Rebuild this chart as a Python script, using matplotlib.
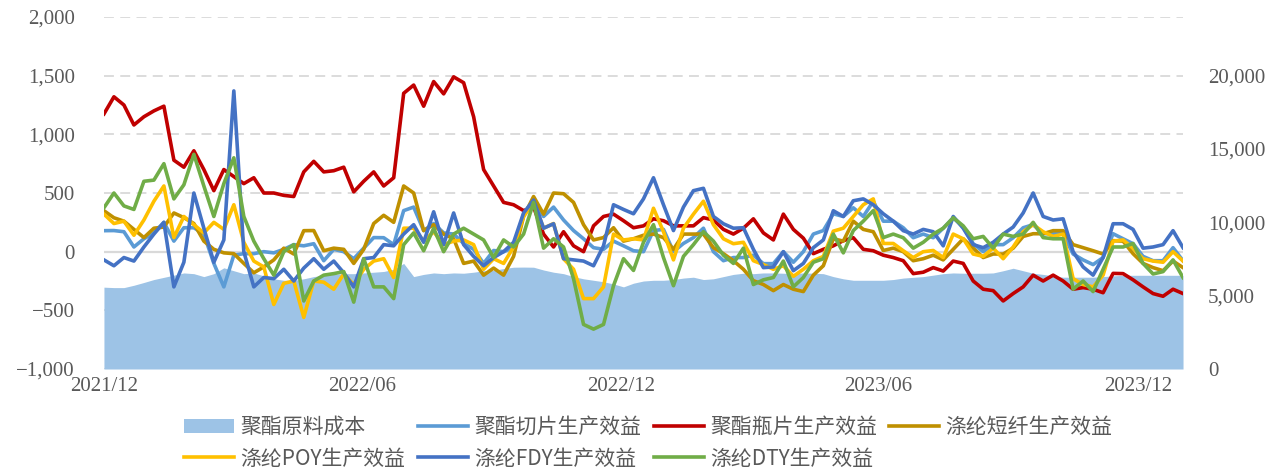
import matplotlib
matplotlib.use('Agg')
import matplotlib.pyplot as plt
import matplotlib.dates as mdates
import matplotlib.ticker as ticker
import pandas as pd

plt.rcParams['font.family'] = ['Noto Sans CJK SC', 'DejaVu Sans']

# weekly samples, 2021/12 - 2024/01
dates = pd.date_range('2021-12-01', '2024-01-02', periods=109)

# 聚酯原料成本 (right axis)
cost = [5580, 5550, 5550, 5710, 5900, 6100, 6250, 6400, 6550, 6500, 6300, 6500, 6900, 6700, 6500, 6550, 6350, 6150, 6050,
        6050, 6150, 6300, 6400, 6450, 6500, 6500, 6550, 6600, 6650, 6800, 7200, 6300, 6450, 6550, 6500, 6550, 6530,
        6600, 6700, 6730, 6850, 6940, 6950, 6940, 6750, 6600, 6500, 6300, 6150, 6050, 5950, 5800, 5600, 5850, 6000,
        6050, 6050, 6100, 6200, 6260, 6100, 6150, 6300, 6450, 6530, 6500, 6550, 6550, 6530, 6500, 6550, 6530, 6500,
        6300, 6150, 6050, 6050, 6050, 6050, 6100, 6200, 6250, 6300, 6400, 6500, 6550, 6530, 6530, 6530, 6550, 6700,
        6870, 6700, 6530, 6450, 6350, 6260, 6260, 6260, 6260, 6300, 6350, 6390, 6390, 6390, 6390, 6390, 6390, 6390]

# 聚酯切片生产效益
chip = [179, 180, 170, 40, 110, 160, 250, 90, 204, 204, 150, -100, -300, -30, -17, -17, 0, -10, 20,
        60, 50, 68, -77, 20, 0, -60, 30, 120, 119, 60, 350, 380, 179, 240, 160, 150, 70,
        20, -100, 10, 0, 34, 320, 420, 300, 380, 270, 180, 110, 34, 20, 90, 50, 8, 0,
        180, 190, 0, 70, 120, 200, 0, -77, -50, -50, -30, -102, -102, 0, -90, 0, 150, 180,
        323, 300, 374, 300, 430, 260, 260, 204, 119, 150, 119, 200, 289, 210, 68, 0, 60, 60,
        119, 204, 230, 153, 153, 153, -20, -70, -110, -50, 153, 110, 68, -40, -77, -77, 34, -77]

# 聚酯瓶片生产效益
bottle = [1174, 1320, 1250, 1080, 1150, 1200, 1240, 780, 720, 860, 700, 520, 700, 640, 580, 630, 500, 500, 480,
          470, 680, 770, 680, 690, 720, 510, 600, 680, 560, 630, 1350, 1420, 1240, 1450, 1345, 1490, 1440,
          1150, 700, 560, 420, 400, 350, 380, 150, 40, 170, 50, 0, 220, 300, 320, 264, 204, 220,
          280, 264, 220, 220, 220, 290, 270, 190, 150, 200, 280, 160, 100, 320, 190, 115, -17, 20,
          50, 94, 119, 20, 8, -30, -50, -77, -187, -175, -136, -165, -80, -100, -250, -320, -332, -420,
          -357, -300, -200, -250, -200, -250, -320, -306, -320, -350, -185, -187, -240, -300, -357, -380, -320, -357]

# 涤纶短纤生产效益
staple = [349, 289, 260, 190, 120, 200, 210, 330, 290, 240, 90, 20, -10, -17, -100, -180, -130, -70, 30,
          -20, 179, 180, 8, 30, 20, -100, 20, 240, 310, 250, 560, 500, 180, 230, 150, 110, -100,
          -80, -200, -140, -200, -40, 300, 470, 320, 500, 494, 420, 230, 100, 120, 204, 90, 110, 140,
          150, 120, 20, 150, 150, 150, 34, -17, -77, -150, -247, -280, -332, -280, -320, -340, -200, -120,
          110, 90, 260, 190, 170, 10, 30, 0, -77, -60, -30, -70, 20, 110, 30, -50, -20, -20,
          30, 130, 153, 153, 179, 179, 60, 34, 8, -20, 94, 90, -17, -100, -136, -162, -80, -136]

# 涤纶POY生产效益
poy = [320, 240, 260, 140, 270, 430, 560, 120, 300, 230, 160, 250, 190, 400, 80, -80, -130, -450, -270,
       -250, -560, -250, -260, -320, -190, -280, -150, -80, -60, -220, 200, 200, 90, 170, 60, 90, 100,
       60, -150, -60, -100, 40, 300, 420, 200, 240, -60, -150, -400, -400, -300, 150, 100, 110, 100,
       370, 170, -70, 200, 320, 430, 230, 110, 68, 80, -77, -110, -150, -120, -210, -150, -77, -40,
       175, 200, 300, 400, 450, 70, 70, 8, -50, 0, 10, -50, 150, 110, -20, -40, 30, -60,
       40, 170, 230, 170, 130, 150, -230, -280, -300, -200, 90, 100, 30, -60, -80, -90, 0, -80]

# 涤纶FDY生产效益
fdy = [-70, -120, -50, -80, 40, 150, 250, -300, -90, 500, 200, -90, 100, 1370, 0, -300, -220, -230, -150,
       -250, -140, -60, -150, -80, -180, -300, -60, -50, 60, 50, 150, 230, 80, 340, 60, 330, 60,
       -40, -120, -50, 0, 80, 330, 440, 200, 238, -60, -70, -80, -120, 50, 400, 360, 323, 450,
       630, 400, 180, 380, 520, 540, 300, 238, 200, 204, 20, -136, -130, 0, -162, -100, 34, 100,
       349, 300, 434, 450, 400, 323, 260, 179, 150, 190, 170, 50, 300, 200, 60, 34, 80, 150,
       210, 330, 500, 300, 270, 280, 0, -130, -200, -50, 238, 238, 190, 30, 40, 60, 179, 34]

# 涤纶DTY生产效益
dty = [374, 500, 390, 360, 600, 610, 750, 450, 570, 830, 560, 300, 580, 800, 300, 90, -60, -200, 0,
       60, -420, -250, -200, -187, -170, -430, -60, -300, -300, -400, 60, 160, 8, 200, 0, 150, 200,
       150, 100, -50, 100, 40, 150, 420, 30, 110, 40, -230, -620, -660, -620, -290, -60, -160, 80,
       230, -50, -290, -40, 60, 170, 90, -30, -100, 30, -280, -240, -220, -80, -300, -220, -90, -60,
       150, -10, 180, 260, 350, 120, 150, 119, 30, 80, 150, 200, 289, 220, 110, 130, 30, 150,
       130, 150, 250, 120, 110, 110, -320, -250, -340, -150, 40, 40, 70, -100, -190, -170, -70, -221]

x_ticks = ['2021-12-01', '2022-06-01', '2022-12-01', '2023-06-01', '2023-12-01']

grey = '#595959'
fig = plt.figure(figsize=(12.88, 4.74), dpi=100)
ax = fig.add_axes([0.0807, 0.2215, 0.8378, 0.7426])
ax2 = ax.twinx()   # area, right scale
ax3 = ax.twiny()   # lines on top, left scale

ax.set_ylim(-1000, 2000)
ax.set_yticks(range(-1000, 2001, 500))
ax.yaxis.set_major_formatter(ticker.FuncFormatter(lambda v, p: f'{v:,.0f}'.replace('-', '\u2212')))
ax.grid(axis='y', color='#D9D9D9', linestyle=(0, (5.5, 3.5)), linewidth=1.3)
ax.axhline(0, color='#D9D9D9', linewidth=1.6)
ax.set_xlim(dates[0], dates[-1])
ax.set_xticks(pd.to_datetime(x_ticks))
ax.xaxis.set_major_formatter(mdates.DateFormatter('%Y/%m'))

ax2.set_ylim(0, 24000)
ax2.set_yticks(range(0, 20001, 5000))
ax2.yaxis.set_major_formatter(ticker.StrMethodFormatter('{x:,.0f}'))
area = ax2.fill_between(dates, cost, 0, color='#9DC3E6', linewidth=0, label='聚酯原料成本')

ax3.set_xlim(dates[0], dates[-1])
ax3.set_xticks([])
series = [(chip, '#5B9BD5', '聚酯切片生产效益'),
          (bottle, '#C00000', '聚酯瓶片生产效益'),
          (staple, '#BF9000', '涤纶短纤生产效益'),
          (poy, '#FFC000', '涤纶POY生产效益'),
          (fdy, '#4472C4', '涤纶FDY生产效益'),
          (dty, '#70AD47', '涤纶DTY生产效益')]
handles = [area]
for vals, c, name in series:
    ln, = ax3.plot(dates, vals, color=c, linewidth=2.6, label=name, solid_joinstyle='round')
    handles.append(ln)

for a in (ax, ax2, ax3):
    for s in a.spines.values():
        s.set_visible(False)
ax.tick_params(axis='y', length=0, pad=21, labelsize=15, labelcolor=grey)
ax.tick_params(axis='x', length=0, pad=6, labelsize=15, labelcolor=grey)
ax2.tick_params(axis='y', length=0, pad=18, labelsize=15, labelcolor=grey)
ax3.tick_params(length=0)
for lab in ax.get_yticklabels() + ax.get_xticklabels() + ax2.get_yticklabels():
    lab.set_family(['Liberation Serif', 'DejaVu Serif'])

# legend fills column by column, so order the handles to read row by row
order = [0, 4, 1, 5, 2, 6, 3]
leg_h = [handles[i] for i in order]
fig.legend(leg_h, [h.get_label() for h in leg_h], ncol=4, loc='upper left',
           bbox_to_anchor=(0.143, 0.122), frameon=False, labelcolor=grey,
           prop={'size': 15, 'weight': 'light'},
           handlelength=2.4, handletextpad=0.3, columnspacing=0.6, labelspacing=0.45,
           borderpad=0, borderaxespad=0)

fig.savefig('out.png', dpi=100)
